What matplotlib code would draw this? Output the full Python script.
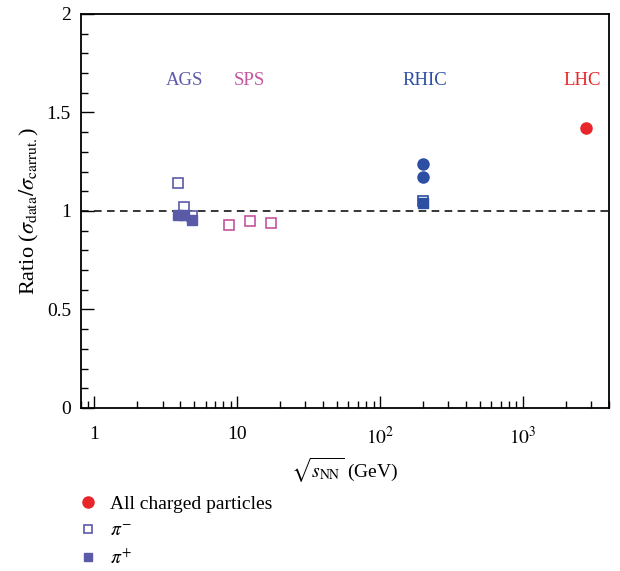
import matplotlib
matplotlib.use("Agg")
import matplotlib.pyplot as plt
from matplotlib.lines import Line2D
from matplotlib.ticker import FixedLocator, LogLocator, MultipleLocator, NullFormatter

plt.rcParams['font.family'] = ['Liberation Serif', 'DejaVu Serif']
plt.rcParams['mathtext.fontset'] = 'stix'

# data
ags_x = [3.85, 4.25, 4.85]
ags_pim = [1.14, 1.02, 0.975]
ags_pip = [0.98, 0.98, 0.955]
sps_x = [8.7, 12.3, 17.3]
sps_pim = [0.93, 0.95, 0.94]
rhic_x = [200]
rhic_ch = [1.24, 1.17]
rhic_pim = [1.05]
rhic_pip = [1.04]
lhc_x = [2760]
lhc_ch = [1.42]

labels = ['AGS', 'SPS', 'RHIC', 'LHC']
label_x = [4.3, 12.2, 205, 2600]
c_ags = '#5b5aa8'
c_sps = '#c2559d'
c_rhic = '#2c4ea3'
c_lhc = '#e8262a'
label_colors = [c_ags, c_sps, c_rhic, c_lhc]

fig = plt.figure(figsize=(6.2, 5.71), dpi=100)
ax = fig.add_axes([0.130, 0.2855, 0.852, 0.69])

ax.axhline(1.0, color='black', lw=1.1, ls=(0, (5, 3.5)), zorder=1)

# AGS
ax.plot(ags_x, ags_pim, ls='none', marker='s', ms=6.5, mfc='white', mec=c_ags, mew=1.2, zorder=3)
ax.plot(ags_x, ags_pip, ls='none', marker='s', ms=6.5, mfc=c_ags, mec=c_ags, mew=1.0, zorder=4)
# SPS
ax.plot(sps_x, sps_pim, ls='none', marker='s', ms=6.5, mfc='white', mec=c_sps, mew=1.2, zorder=3)
# RHIC
ax.plot(rhic_x * 2, rhic_ch, ls='none', marker='o', ms=8, mfc=c_rhic, mec=c_rhic, zorder=3)
ax.plot(rhic_x, rhic_pim, ls='none', marker='s', ms=6.5, mfc='white', mec=c_rhic, mew=1.2, zorder=3)
ax.plot(rhic_x, rhic_pip, ls='none', marker='s', ms=6.5, mfc=c_rhic, mec=c_rhic, mew=1.0, zorder=4)
# LHC
ax.plot(lhc_x, lhc_ch, ls='none', marker='o', ms=8, mfc=c_lhc, mec=c_lhc, zorder=3)

for lab, lx, lc in zip(labels, label_x, label_colors):
    ax.text(lx, 1.66, lab, color=lc, fontsize=13.5, ha='center', va='center')

ax.set_xscale('log')
ax.set_xlim(0.8, 4000)
ax.set_ylim(0, 2)

ax.xaxis.set_major_locator(FixedLocator([1, 10, 100, 1000]))
ax.set_xticklabels(['1', '10', r'$10^2$', r'$10^3$'])
ax.xaxis.set_minor_locator(LogLocator(base=10, subs=range(2, 10), numticks=20))
ax.xaxis.set_minor_formatter(NullFormatter())
ax.yaxis.set_minor_locator(MultipleLocator(0.1))
ax.set_yticks([0, 0.5, 1, 1.5, 2])
ax.set_yticklabels(['0', '0.5', '1', '1.5', '2'])

ax.tick_params(which='both', direction='in', top=False, right=False, labelsize=14)
ax.tick_params(axis='x', pad=13)
ax.tick_params(axis='y', pad=7)
ax.tick_params(which='major', length=9, width=1)
ax.tick_params(which='minor', length=5, width=1)
for sp in ax.spines.values():
    sp.set_linewidth(1.3)

ax.set_xlabel(r'$\sqrt{s_{\rm NN}}$ (GeV)', fontsize=14, labelpad=6)
ax.set_ylabel(r'Ratio ($\sigma_{\rm data}/\sigma_{\rm carrut.}$)', fontsize=16, labelpad=4)

handles = [
    Line2D([], [], ls='none', marker='o', ms=8, mfc=c_lhc, mec=c_lhc),
    Line2D([], [], ls='none', marker='s', ms=6, mfc='white', mec=c_ags, mew=1.2),
    Line2D([], [], ls='none', marker='s', ms=6, mfc=c_ags, mec=c_ags),
]
fig.legend(handles, ['All charged particles', r'$\pi^{-}$', r'$\pi^{+}$'],
           loc='upper left', bbox_to_anchor=(0.127, 0.132), frameon=False,
           fontsize=14, handlelength=1.0, handletextpad=0.6, labelspacing=0.45,
           borderaxespad=0, borderpad=0)

fig.savefig('out.png', dpi=100)
